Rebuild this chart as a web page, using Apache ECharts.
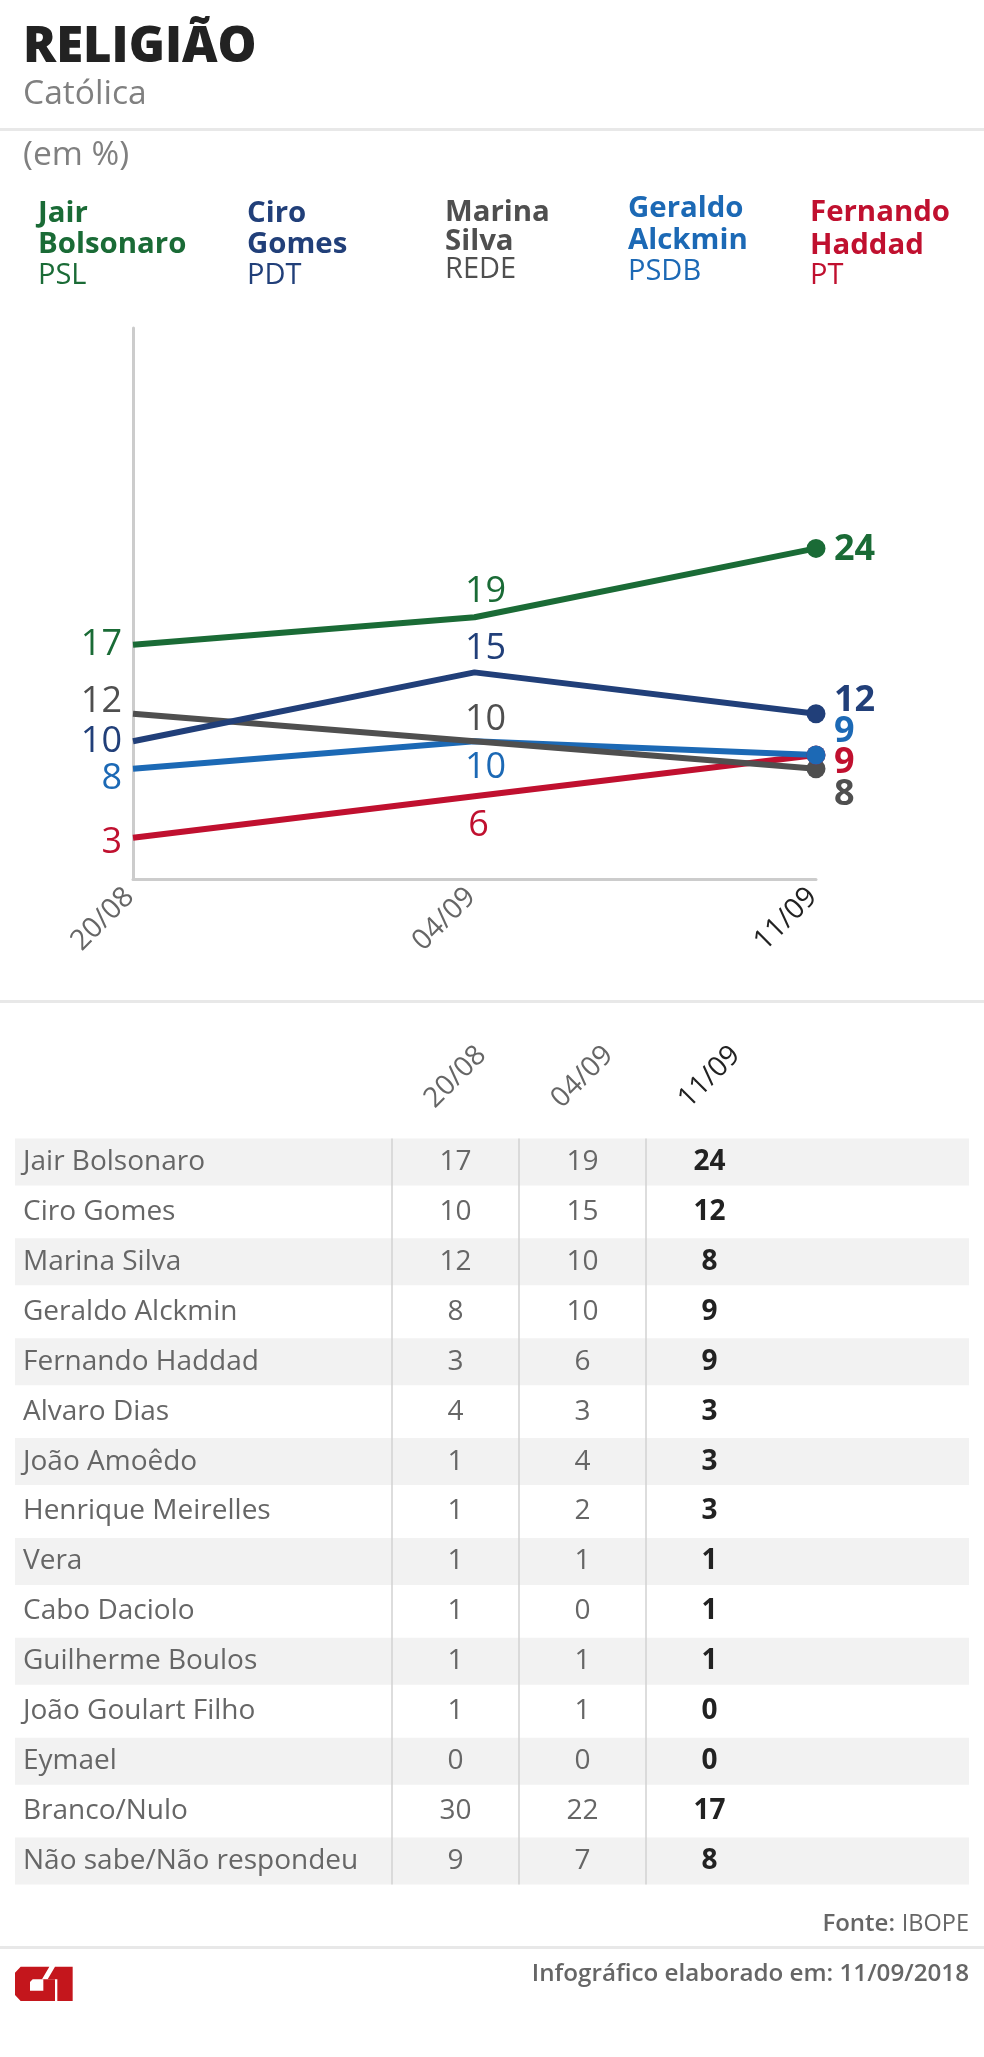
<!DOCTYPE html>
<html>
<head>
<meta charset="utf-8">
<title>Religião - Católica</title>
<script src="https://cdn.jsdelivr.net/npm/echarts@6/dist/echarts.min.js"></script>
<style>
  html, body { margin: 0; padding: 0; background: #fff; }
  #chart { width: 984px; height: 2057px; }
</style>
</head>
<body>
<div id="chart"></div>
<script>
const FONT = '"Open Sans", sans-serif'

const rounds = ['20/08', '04/09', '11/09']

// line chart series, top five candidates
const bolsonaro = [17, 19, 24]
const ciro = [10, 15, 12]
const marina = [12, 10, 8]
const alckmin = [8, 10, 9]
const haddad = [3, 6, 9]

// table
const tableNames = [
  'Jair Bolsonaro', 'Ciro Gomes', 'Marina Silva', 'Geraldo Alckmin', 'Fernando Haddad',
  'Alvaro Dias', 'João Amoêdo', 'Henrique Meirelles', 'Vera', 'Cabo Daciolo',
  'Guilherme Boulos', 'João Goulart Filho', 'Eymael', 'Branco/Nulo', 'Não sabe/Não respondeu',
]
const table2008 = [17, 10, 12, 8, 3, 4, 1, 1, 1, 1, 1, 1, 0, 30, 9]
const table0409 = [19, 15, 10, 10, 6, 3, 4, 2, 1, 0, 1, 1, 0, 22, 7]
const table1109 = [24, 12, 8, 9, 9, 3, 3, 3, 1, 1, 1, 0, 0, 17, 8]

// legend header: name lines, party, colour, left edge, baselines
const legendItems = [
  { lines: ['Jair', 'Bolsonaro'], party: 'PSL', color: '#1a6b36', x: 38, ys: [221, 252, 283] },
  { lines: ['Ciro', 'Gomes'], party: 'PDT', color: '#213f79', x: 247, ys: [221, 252, 283] },
  { lines: ['Marina', 'Silva'], party: 'REDE', color: '#4f4f4f', x: 445, ys: [220, 249, 277] },
  { lines: ['Geraldo', 'Alckmin'], party: 'PSDB', color: '#1c69b5', x: 628, ys: [216, 248, 279] },
  { lines: ['Fernando', 'Haddad'], party: 'PT', color: '#c0102f', x: 810, ys: [220, 253, 283] },
]

// draw order follows the picture: later series sit on top
const lineSeries = [
  { name: 'Fernando Haddad', data: haddad, color: '#c0102f',
    labels: [['left', 0, 5], ['inside', 4, 29], ['right', 0, 8]] },
  { name: 'Geraldo Alckmin', data: alckmin, color: '#1c69b5',
    labels: [['left', 0, 10], ['inside', 11, 26], ['right', 0, -23]] },
  { name: 'Marina Silva', data: marina, color: '#4f4f4f',
    labels: [['left', 0, -12], ['inside', 11, -22], ['right', 0, 26]] },
  { name: 'Ciro Gomes', data: ciro, color: '#213f79',
    labels: [['left', 0, 0], ['inside', 11, -24], ['right', 0, -13]] },
  { name: 'Jair Bolsonaro', data: bolsonaro, color: '#1a6b36',
    labels: [['left', 0, 0], ['inside', 11, -26], ['right', 0, 1]] },
]
// end dots overlap in a different order than the lines
const dotOrder = ['Marina Silva', 'Fernando Haddad', 'Geraldo Alckmin', 'Ciro Gomes', 'Jair Bolsonaro']

const chart = echarts.init(document.getElementById('chart'), null, { renderer: 'canvas' })

const text = (x, y, str, size, color, weight, align) => ({
  type: 'text',
  x: x,
  y: y,
  silent: true,
  style: {
    text: str,
    fill: color,
    font: (weight || 400) + ' ' + size + 'px ' + FONT,
    textAlign: align || 'left',
    textVerticalAlign: 'bottom',
  },
})

const rule = (y) => ({
  type: 'rect',
  silent: true,
  shape: { x: 0, y: y, width: 984, height: 3 },
  style: { fill: '#e8e8e8' },
})

// G1 logo, points read in a 3x crop
const logoPoint = (p) => [p[0] / 3, 1950 + p[1] / 3]
const logoShape = (points, fill) => ({
  type: 'polygon',
  silent: true,
  shape: { points: points.map(logoPoint) },
  style: { fill: fill },
})

const graphics = [rule(128), rule(1000), rule(1946)]
graphics.push(text(23, 172, '(em %)', 33.6, '#808080'))
legendItems.forEach((item) => {
  item.lines.forEach((line, i) => {
    graphics.push(text(item.x, item.ys[i] + 7, line, 29.4, item.color, 700))
  })
  graphics.push(text(item.x, item.ys[2] + 7, item.party, 29, item.color))
})
graphics.push(text(969, 1936, 'IBOPE', 23.5, '#666', 400, 'right'))
graphics.push(text(895, 1936, 'Fonte:', 24, '#666', 600, 'right'))
graphics.push(text(969, 1986, 'Infográfico elaborado em: 11/09/2018', 24.2, '#666', 600, 'right'))
graphics.push(logoShape([[62, 50], [148, 50], [126, 88], [165, 88], [165, 153], [62, 153], [45, 135], [45, 68]], '#c4161c'))
graphics.push(logoShape([[98, 88], [130, 88], [130, 122], [90, 122], [90, 96]], '#fff'))
graphics.push(logoShape([[165, 50], [218, 50], [218, 153], [172, 153], [172, 88], [143, 88]], '#c4161c'))

const roundColor = (value) => (value === rounds[2] ? '#222' : '#666')

const option = {
  animation: false,
  backgroundColor: '#fff',
  textStyle: { fontFamily: FONT },
  title: [
    { text: 'RELIGIÃO', left: 23, top: 24, padding: 0,
      textStyle: { fontFamily: FONT, fontSize: 49, fontWeight: 800, color: '#222' } },
    { text: 'Católica', left: 23, top: 77, padding: 0,
      textStyle: { fontFamily: FONT, fontSize: 33.6, fontWeight: 400, color: '#808080' } },
  ],
  graphic: graphics,
  grid: [
    { left: 133, right: 168, top: 328, height: 551, containLabel: false },
    { left: 392, width: 381, top: 1137, height: 749, containLabel: false },
  ],
  xAxis: [
    {
      type: 'category',
      gridIndex: 0,
      boundaryGap: false,
      data: rounds,
      axisTick: { show: false },
      axisLine: { lineStyle: { color: '#ccc', width: 3 } },
      axisLabel: {
        rotate: 45, margin: 10, fontSize: 28.5, color: roundColor, fontFamily: FONT, interval: 0,
        padding: [0, 5, 0, 0],
      },
    },
    {
      type: 'category',
      gridIndex: 1,
      position: 'top',
      data: rounds,
      axisTick: { show: false },
      axisLine: { show: false },
      axisLabel: {
        rotate: -45, margin: 60, fontSize: 28, color: roundColor, fontFamily: FONT, interval: 0,
        align: 'center', verticalAlign: 'middle',
      },
    },
  ],
  yAxis: [
    {
      type: 'value',
      gridIndex: 0,
      min: 0,
      max: 40,
      interval: 40,
      axisLine: { show: true, lineStyle: { color: '#ccc', width: 3 } },
      axisTick: { show: false },
      axisLabel: { show: false },
      splitLine: { show: false },
    },
    {
      type: 'category',
      gridIndex: 1,
      inverse: true,
      z: 5,
      data: tableNames,
      axisLine: { show: false },
      axisTick: { show: false },
      axisLabel: {
        align: 'left', margin: 369, fontSize: 28, color: '#666', fontFamily: FONT, interval: 0,
      },
      splitLine: { show: false },
    },
  ],
  series: [
    ...lineSeries.map((s) => ({
      type: 'line',
      name: s.name,
      xAxisIndex: 0,
      yAxisIndex: 0,
      color: s.color,
      lineStyle: { color: s.color, width: 6 },
      itemStyle: { color: s.color },
      symbol: 'circle',
      symbolSize: 0,
      showAllSymbol: true,
      data: s.data.map((v, i) => ({
        value: v,
        label: {
          show: true,
          position: s.labels[i][0],
          distance: s.labels[i][0] === 'left' ? 11 : 18,
          offset: [s.labels[i][1], s.labels[i][2]],
          fontFamily: FONT,
          fontSize: 36,
          fontWeight: i === 2 ? 700 : 400,
          color: s.color,
        },
      })),
    })),
    ...dotOrder.map((name, k) => {
      const s = lineSeries.find((l) => l.name === name)
      return {
        type: 'scatter',
        name: name + ' (atual)',
        xAxisIndex: 0,
        yAxisIndex: 0,
        z: 4 + k,
        symbolSize: 19,
        itemStyle: { color: s.color, opacity: 1 },
        data: [[2, s.data[2]]],
      }
    }),
    {
      // striped row backgrounds, full table width
      type: 'custom',
      name: 'rows',
      xAxisIndex: 1,
      yAxisIndex: 1,
      z: 1,
      silent: true,
      data: tableNames.map((n, i) => [0, i]).filter((d) => d[1] % 2 === 0),
      renderItem: (params, api) => {
        const y = api.coord([0, api.value(1)])[1]
        return {
          type: 'rect',
          shape: { x: 15, y: y - 23.5, width: 954, height: 47 },
          style: { fill: '#f2f2f2' },
        }
      },
    },
    {
      // column rules
      type: 'custom',
      name: 'rules',
      xAxisIndex: 1,
      yAxisIndex: 1,
      z: 2,
      silent: true,
      data: rounds.map((r, i) => [i]),
      renderItem: (params, api) => {
        const x = api.coord([api.value(0), 0])[0] - api.size([1, 0])[0] / 2
        const top = api.coord([0, 0])[1] - 23.5
        const bottom = api.coord([0, tableNames.length - 1])[1] + 23.5
        return {
          type: 'line',
          shape: { x1: x, y1: top, x2: x, y2: bottom },
          style: { stroke: '#d2d2d2', lineWidth: 1.5 },
        }
      },
    },
    ...[table2008, table0409, table1109].map((col, c) => ({
      type: 'custom',
      name: 'col' + rounds[c],
      xAxisIndex: 1,
      yAxisIndex: 1,
      z: 3,
      silent: true,
      data: col.map((v, i) => [c, i, v]),
      renderItem: (params, api) => {
        const p = api.coord([api.value(0), api.value(1)])
        return {
          type: 'text',
          x: p[0],
          y: p[1],
          style: {
            text: String(api.value(2)),
            fill: c === 2 ? '#222' : '#666',
            font: (c === 2 ? 700 : 400) + ' 28px ' + FONT,
            textAlign: 'center',
            textVerticalAlign: 'middle',
          },
        }
      },
    })),
  ],
}

chart.setOption(option)
</script>
</body>
</html>
